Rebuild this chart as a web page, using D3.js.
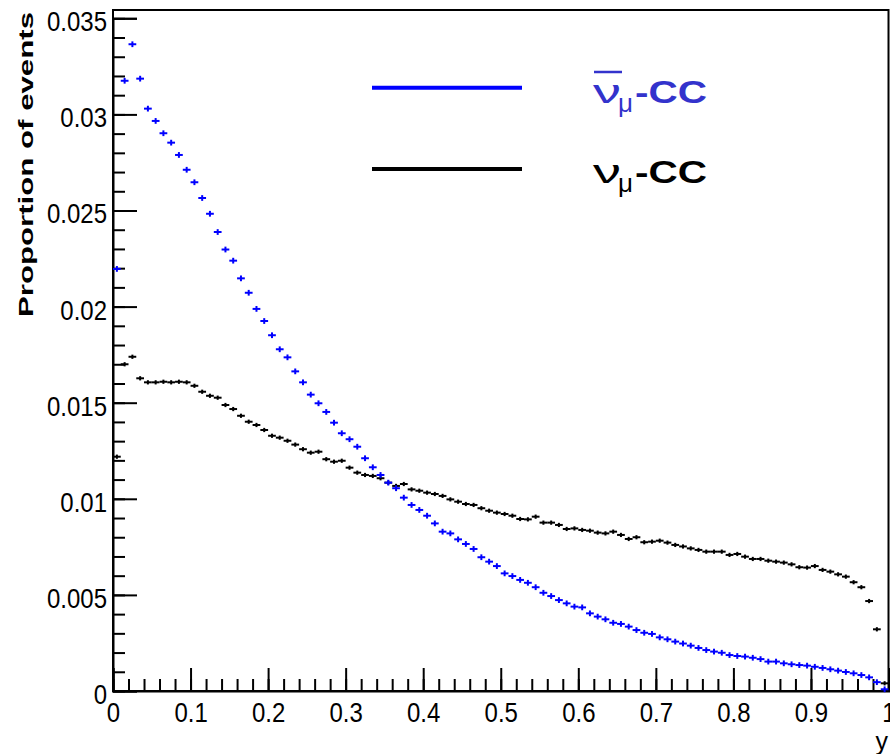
<!DOCTYPE html>
<html>
<head>
<meta charset="utf-8">
<script src="https://cdn.jsdelivr.net/npm/d3@7"></script>
<style>
  body { margin: 0; background: #fff; }
  svg { display: block; }
  text { font-family: "Liberation Sans", Arial, sans-serif; }
</style>
</head>
<body>
<div id="chart"></div>
<script>
(function(d3) {
    // bin lower edges, width 0.01
    var binWidth = 0.01;
    var binLow = d3.range(100).map(function(i){ return i * binWidth; });

    // anti-numu CC (blue)
    var antiNu = [
        0.02196, 0.03175, 0.03365, 0.03186, 0.0303, 0.02966, 0.02902, 0.02853, 0.02789, 0.02712,
        0.02647, 0.02565, 0.02483, 0.02388, 0.02297, 0.02239, 0.02147, 0.02072, 0.01988, 0.01925,
        0.01851, 0.01778, 0.01736, 0.01663, 0.01606, 0.01542, 0.01497, 0.01452, 0.01396, 0.01341,
        0.0131, 0.01271, 0.01211, 0.01164, 0.01124, 0.01084, 0.01055, 0.01006, 0.00968, 0.00942,
        0.00912, 0.00872, 0.00829, 0.0082, 0.00789, 0.00765, 0.00739, 0.00696, 0.00673, 0.0065,
        0.00612, 0.00598, 0.00578, 0.00563, 0.0054, 0.00511, 0.00494, 0.00473, 0.00456, 0.00439,
        0.00435, 0.00404, 0.00387, 0.00373, 0.00355, 0.00349, 0.00335, 0.00317, 0.00303, 0.00297,
        0.00279, 0.00269, 0.00257, 0.00247, 0.00236, 0.00224, 0.00213, 0.00205, 0.00199, 0.00187,
        0.00182, 0.00179, 0.00173, 0.00166, 0.00153, 0.00153, 0.00144, 0.00139, 0.00135, 0.00132,
        0.00126, 0.0012, 0.00113, 0.00106, 0.00099, 0.00092, 0.00083, 0.00071, 0.00046, 0.00009
    ];
    // numu CC (black)
    var nu = [
        0.01219, 0.017, 0.01739, 0.01627, 0.01606, 0.01606, 0.01609, 0.01606, 0.01609, 0.01606,
        0.01588, 0.01557, 0.01536, 0.01526, 0.01488, 0.01467, 0.01432, 0.01401, 0.01384, 0.01358,
        0.01328, 0.01318, 0.01302, 0.01282, 0.01258, 0.0124, 0.01245, 0.01206, 0.01193, 0.01198,
        0.01162, 0.01136, 0.01124, 0.01119, 0.01107, 0.01084, 0.01067, 0.01077, 0.01049, 0.01042,
        0.01032, 0.01025, 0.01015, 0.00997, 0.00985, 0.00973, 0.00968, 0.00951, 0.00938, 0.00928,
        0.00921, 0.00912, 0.00895, 0.00893, 0.00907, 0.00876, 0.00876, 0.00864, 0.00843, 0.00846,
        0.00838, 0.00834, 0.00824, 0.0082, 0.00829, 0.00812, 0.00791, 0.008, 0.00774, 0.00777,
        0.00782, 0.00772, 0.0076, 0.00752, 0.00742, 0.00734, 0.00725, 0.00725, 0.00725, 0.00708,
        0.00713, 0.00699, 0.00687, 0.00687, 0.00678, 0.00673, 0.00668, 0.00659, 0.00644, 0.00642,
        0.0065, 0.0063, 0.00621, 0.00607, 0.00595, 0.00566, 0.0054, 0.00468, 0.00321, 0.0004
    ];
    var antiNuErr = 0.00015;
    var nuErr = 0.00011;

    var xTicks = [0, 0.1, 0.2, 0.3, 0.4, 0.5, 0.6, 0.7, 0.8, 0.9, 1];
    var xTickLabels = ['0', '0.1', '0.2', '0.3', '0.4', '0.5', '0.6', '0.7', '0.8', '0.9', '1'];
    var yTicks = [0, 0.005, 0.01, 0.015, 0.02, 0.025, 0.03, 0.035];
    var yTickLabels = ['0', '0.005', '0.01', '0.015', '0.02', '0.025', '0.03', '0.035'];

    var W = 890, H = 754;
    var left = 113, right = 888.5, top = 10, bottom = 691;

    var x = d3.scaleLinear().domain([0, 1]).range([left, right]);
    var y = d3.scaleLinear().domain([0, 0.035]).range([bottom, 18.3]);

    var svg = d3.select('#chart')
        .append('svg')
        .attr('width', W)
        .attr('height', H);

    // frame
    svg.append('rect')
        .attr('x', left).attr('y', top)
        .attr('width', right - left).attr('height', bottom - top)
        .attr('fill', 'none').attr('stroke', '#000').attr('stroke-width', 2);

    // y axis: major + minor ticks pointing inside
    var yMinor = d3.range(0, 0.0355, 0.001);
    svg.append('g')
        .attr('transform', 'translate(' + left + ',0)')
        .call(d3.axisLeft(y).tickValues(yMinor).tickSize(-12).tickFormat(''))
        .call(function(g){ g.select('.domain').remove(); });
    var gy = svg.append('g')
        .attr('transform', 'translate(' + left + ',0)')
        .call(d3.axisLeft(y).tickValues(yTicks).tickSize(-24).tickPadding(6)
            .tickFormat(function(d, i){ return yTickLabels[i]; }));
    gy.select('.domain').attr('stroke-width', 2);

    // x axis
    var xMinor = d3.range(0, 1.001, 0.02);
    svg.append('g')
        .attr('transform', 'translate(0,' + bottom + ')')
        .call(d3.axisBottom(x).tickValues(xMinor).tickSize(-12).tickFormat(''))
        .call(function(g){ g.select('.domain').remove(); });
    var gx = svg.append('g')
        .attr('transform', 'translate(0,' + bottom + ')')
        .call(d3.axisBottom(x).tickValues(xTicks).tickSize(-23).tickPadding(10)
            .tickFormat(function(d, i){ return xTickLabels[i]; }));
    gx.select('.domain').attr('stroke-width', 2);

    svg.selectAll('.tick line').attr('stroke-width', 2);
    svg.selectAll('.tick text')
        .attr('font-family', '"Liberation Sans", Arial, sans-serif')
        .attr('font-size', 24)
        .attr('fill', '#000')
        .attr('transform', 'scale(1,1.15)');
    gy.selectAll('.tick text').attr('dy', '0.45em');
    gx.selectAll('.tick text').attr('dy', '0.71em');

    // histogram markers (bin-width bar + error bar)
    function drawHist(values, err, color, cls) {
        var g = svg.append('g').attr('class', cls)
            .attr('stroke', color).attr('stroke-width', 2).attr('fill', 'none');
        g.selectAll('line.h')
            .data(values)
            .enter()
            .append('line')
            .attr('class', 'h')
            .attr('x1', function(d, i){ return x(binLow[i]); })
            .attr('x2', function(d, i){ return x(binLow[i] + binWidth); })
            .attr('y1', function(d){ return y(d); })
            .attr('y2', function(d){ return y(d); });
        g.selectAll('line.v')
            .data(values)
            .enter()
            .append('line')
            .attr('class', 'v')
            .attr('x1', function(d, i){ return x(binLow[i] + binWidth / 2); })
            .attr('x2', function(d, i){ return x(binLow[i] + binWidth / 2); })
            .attr('y1', function(d){ return y(d - err); })
            .attr('y2', function(d){ return y(d + err); });
    }
    drawHist(nu, nuErr, '#000', 'nu');
    drawHist(antiNu, antiNuErr, '#0000ff', 'antinu');

    // axis titles
    svg.append('text')
        .attr('transform', 'translate(33,12) rotate(-90)')
        .attr('text-anchor', 'end')
        .attr('font-size', 21)
        .attr('font-weight', 'bold')
        .attr('textLength', 305)
        .attr('lengthAdjust', 'spacingAndGlyphs')
        .text('Proportion of events');
    svg.append('text')
        .attr('x', 888).attr('y', 750)
        .attr('text-anchor', 'end')
        .attr('font-size', 25)
        .text('y');

    // legend
    var legend = [
        { label: '-CC', color: '#0000ff', text: '#3333cc', bar: true, ly: 87.7, ty: 103 },
        { label: '-CC', color: '#000', text: '#000', bar: false, ly: 169, ty: 183 }
    ];
    var lg = svg.append('g');
    legend.forEach(function(d) {
        lg.append('line')
            .attr('x1', 372).attr('x2', 522)
            .attr('y1', d.ly).attr('y2', d.ly)
            .attr('stroke', d.color).attr('stroke-width', 4);
        lg.append('text')
            .attr('x', 593).attr('y', d.ty)
            .attr('font-size', 34)
            .attr('fill', d.text)
            .attr('textLength', 28)
            .attr('lengthAdjust', 'spacingAndGlyphs')
            .text('\u03bd');
        lg.append('text')
            .attr('x', 618).attr('y', d.ty + 9)
            .attr('font-size', 26)
            .attr('fill', d.text)
            .text('\u03bc');
        lg.append('text')
            .attr('x', 635).attr('y', d.ty)
            .attr('font-size', 31)
            .attr('font-weight', 'bold')
            .attr('fill', d.text)
            .attr('textLength', 72)
            .attr('lengthAdjust', 'spacingAndGlyphs')
            .text(d.label);
        if (d.bar) {
            lg.append('line')
                .attr('x1', 594).attr('x2', 622)
                .attr('y1', d.ty - 31).attr('y2', d.ty - 31)
                .attr('stroke', d.text).attr('stroke-width', 2.5);
        }
    });
}(window.d3));
</script>
</body>
</html>
